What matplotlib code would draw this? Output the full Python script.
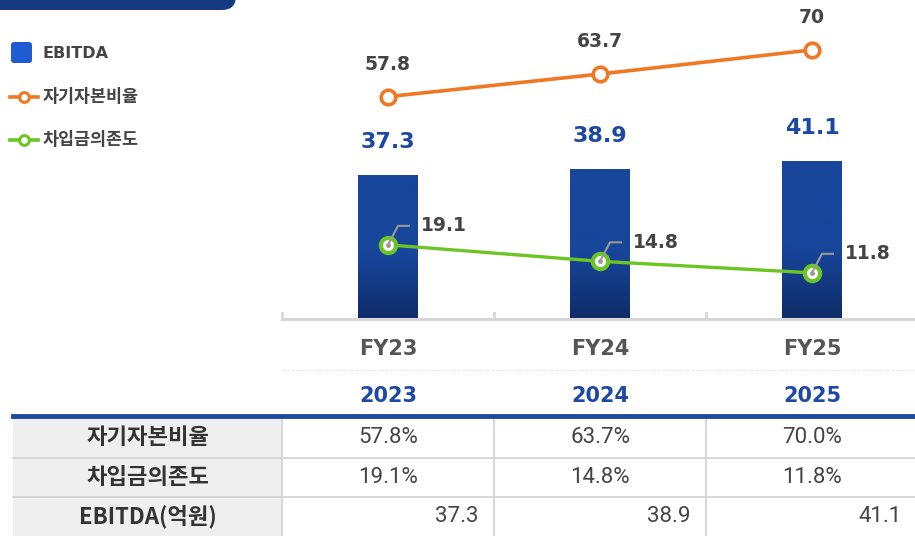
import matplotlib
matplotlib.use('Agg')
import matplotlib.pyplot as plt
import numpy as np
from matplotlib.patches import FancyBboxPatch, Rectangle
from matplotlib.colors import LinearSegmentedColormap

# ---------------- data ----------------
categories = ['FY23', 'FY24', 'FY25']
years = ['2023', '2024', '2025']
ebitda = [37.3, 38.9, 41.1]
equity_ratio = [57.8, 63.7, 70.0]
debt_dependence = [19.1, 14.8, 11.8]
series_names = ['EBITDA', '자기자본비율', '차입금의존도']
table_rows = ['자기자본비율', '차입금의존도', 'EBITDA(억원)']

# ---------------- style ----------------
plt.rcParams['font.family'] = ['Noto Sans CJK KR', 'DejaVu Sans']
BLUE_TOP = '#17469b'
BLUE_BOT = '#0f2c69'
LEG_BLUE = '#1f5bd1'
ORANGE = '#f07823'
GREEN = '#6cc425'
DARK = '#444444'
LBL_BLUE = '#1d48a3'
W, H = 915, 536

fig = plt.figure(figsize=(W / 100, H / 100), dpi=100)

# pixel-space overlay axes (background)
bg = fig.add_axes([0, 0, 1, 1])
bg.set_xlim(0, W)
bg.set_ylim(H, 0)
bg.axis('off')

# main chart axes
PX_PER_UNIT = 3.83
BASE_Y = 318
ax = fig.add_axes([282 / W, (H - BASE_Y) / H, 636 / W, BASE_Y / H])
ax.patch.set_visible(False)
for s in ax.spines.values():
    s.set_visible(False)
ax.set_xlim(-0.5, 2.5)
ax.set_ylim(0, BASE_Y / PX_PER_UNIT)
ax.set_yticks([])
ax.set_xticks([])

x = np.arange(len(categories))

# bars with gradient
cmap = LinearSegmentedColormap.from_list('bar', [(0, BLUE_TOP), (0.55, BLUE_TOP), (1, BLUE_BOT)])
bars = ax.bar(x, ebitda, width=60 / 212, color=BLUE_TOP, zorder=2)
grad = np.linspace(0, 1, 256).reshape(-1, 1)
for b in bars:
    x0, w, h = b.get_x(), b.get_width(), b.get_height()
    im = ax.imshow(grad, cmap=cmap, extent=(x0, x0 + w, 0, h), origin='upper',
                   aspect='auto', zorder=2.1)
    im.set_clip_path(b)
ax.set_xlim(-0.5, 2.5)
ax.set_ylim(0, BASE_Y / PX_PER_UNIT)

for xi, v in zip(x, ebitda):
    ax.annotate(f'{v:.1f}', (xi, v), xytext=(0, 23), textcoords='offset pixels',
                ha='center', va='bottom', fontsize=16, fontweight='bold',
                color=LBL_BLUE, family=['DejaVu Sans'])

# lines
ax.plot(x, equity_ratio, color=ORANGE, lw=2.6, marker='o', ms=10.5,
        mfc='white', mec=ORANGE, mew=2.6, zorder=4)
ax.plot(x, debt_dependence, color=GREEN, lw=2.4, marker='o', ms=11,
        mfc='white', mec=GREEN, mew=3, zorder=4)

for xi, v in zip(x, equity_ratio):
    lbl = f'{v:g}'
    ax.annotate(lbl, (xi, v), xytext=(0, 23), textcoords='offset pixels',
                ha='center', va='bottom', fontsize=13.5, fontweight='bold',
                color=DARK, family=['DejaVu Sans'])

fig.canvas.draw()
for xi, v in zip(x, debt_dependence):
    dx, dy = ax.transData.transform((xi, v))
    px, py = dx, H - dy
    bg.plot([px, px + 10, px + 22], [py, py - 19, py - 19], color='#9a9a9a',
            lw=1.5, zorder=10, solid_capstyle='butt')
    bg.plot([px], [py], marker='o', ms=2.5, color='#9a9a9a', zorder=10)
    bg.text(px + 33, py - 19, f'{v:.1f}', ha='left', va='center', fontsize=13.5,
            fontweight='bold', color=DARK, family=['DejaVu Sans'], zorder=10)
bg.set_zorder(ax.get_zorder() + 1)
bg.patch.set_visible(False)

# header tab
bg.add_patch(FancyBboxPatch((-40, -40), 276, 50, boxstyle='round,pad=0,rounding_size=14',
                            fc='#163a82', ec='none'))

# legend
bg.add_patch(FancyBboxPatch((11, 42), 21, 21, boxstyle='round,pad=0,rounding_size=3',
                            fc=LEG_BLUE, ec='none'))
bg.text(42, 53, series_names[0], ha='left', va='center', fontsize=11.5,
        fontweight='bold', color=DARK, family=['DejaVu Sans'])
for yy, col, name in [(97, ORANGE, series_names[1]), (140, GREEN, series_names[2])]:
    bg.plot([10, 38], [yy, yy], color=col, lw=2.6)
    bg.plot([24], [yy], marker='o', ms=7, mfc='white', mec=col, mew=2.2)
    bg.text(43, yy, name, ha='left', va='center', fontsize=12.5,
            fontweight='bold', color=DARK)

# axis baseline and ticks
bg.plot([282, W], [BASE_Y + 1, BASE_Y + 1], color='#d6d6d6', lw=2.2, zorder=3)
for tx in [282, 494, 706]:
    bg.plot([tx, tx], [BASE_Y + 1, BASE_Y - 5], color='#d6d6d6', lw=2, zorder=3)

# category labels
for xi, c in zip(x, categories):
    px = ax.transData.transform((xi, 0))[0]
    bg.text(px, 349, c, ha='center', va='center', fontsize=15, fontweight='bold',
            color='#555555', family=['DejaVu Sans'])
bg.plot([282, W], [370, 370], color='#e4e4e4', lw=1, ls=(0, (1, 1)))

# ---------------- table ----------------
for xi, yv in zip(x, years):
    px = ax.transData.transform((xi, 0))[0]
    bg.text(px, 396, yv, ha='center', va='center', fontsize=15, fontweight='bold',
            color=LBL_BLUE, family=['DejaVu Sans'])

row_top = 418
row_h = 39.5
bg.add_patch(Rectangle((13, row_top), 282 - 13, H - row_top, fc='#efefef', ec='none'))
bg.plot([13, W], [416, 416], color='#1f49a0', lw=3.5, zorder=5)
for i in range(1, 3):
    yy = row_top + i * row_h
    bg.plot([13, W], [yy, yy], color='#d4d4d4', lw=1.3, zorder=4)
for vx in [282, 494, 706]:
    bg.plot([vx, vx], [row_top, H], color='#d4d4d4', lw=1.3, zorder=4)

row_vals = [[f'{v:.1f}%' for v in equity_ratio],
            [f'{v:.1f}%' for v in debt_dependence],
            [f'{v:.1f}' for v in ebitda]]
for r, (name, vals) in enumerate(zip(table_rows, row_vals)):
    cy = row_top + r * row_h + row_h / 2
    bg.text(148, cy, name, ha='center', va='center', fontsize=16,
            fontweight='bold', color='#333333')
    for xi, val in zip(x, vals):
        px = ax.transData.transform((xi, 0))[0]
        if r < 2:
            bg.text(px, cy, val, ha='center', va='center', fontsize=16,
                    color=DARK, family=['Roboto', 'DejaVu Sans'])
        else:
            bg.text(px + 90, cy, val, ha='right', va='center', fontsize=16,
                    color=DARK, family=['Roboto', 'DejaVu Sans'])

fig.savefig('out.png', dpi=100)
